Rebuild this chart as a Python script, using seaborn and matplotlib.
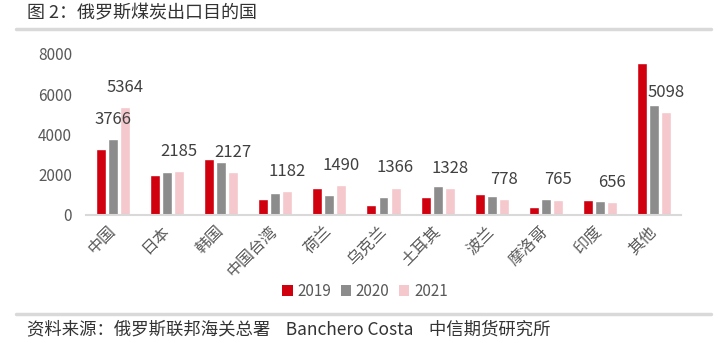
import matplotlib
matplotlib.use("Agg")
import matplotlib.pyplot as plt
from matplotlib.lines import Line2D
from matplotlib.patches import Patch
import seaborn as sns
import pandas as pd

categories = ["中国", "日本", "韩国", "中国台湾", "荷兰", "乌克兰", "土耳其", "波兰", "摩洛哥", "印度", "其他"]
v2019 = [3270, 1990, 2780, 800, 1340, 510, 900, 1060, 400, 760, 7560]
v2020 = [3766, 2140, 2630, 1080, 1010, 880, 1440, 945, 780, 690, 5470]
v2021 = [5364, 2185, 2127, 1182, 1490, 1366, 1328, 778, 765, 656, 5098]
years = ["2019", "2020", "2021"]
colors = ["#d0000f", "#8c8c8c", "#f4c8cc"]

sns.set_theme(style="white")
plt.rcParams["font.family"] = ["Noto Sans CJK SC", "DejaVu Sans"]

rows = []
for y, vals in zip(years, [v2019, v2020, v2021]):
    for c, v in zip(categories, vals):
        rows.append({"cat": c, "year": y, "val": v})
df = pd.DataFrame(rows)

fig = plt.figure(figsize=(7.18, 3.43), dpi=100)
ax = fig.add_axes([86/718, 1-215/343, (681-86)/718, (215-54)/343])

sns.barplot(data=df, x="cat", y="val", hue="year", hue_order=years,
            palette=colors, order=categories, width=0.667, gap=0.17,
            ax=ax, legend=False, saturation=1)

ax.set_ylim(0, 8000)
ax.set_xlim(-0.5, len(categories) - 0.5)
ax.set_yticks([0, 2000, 4000, 6000, 8000])
ax.set_xlabel("")
ax.set_ylabel("")
for s in ["top", "right", "left"]:
    ax.spines[s].set_visible(False)
ax.spines["bottom"].set_color("#d9d9d9")
ax.spines["bottom"].set_linewidth(1.5)
ax.tick_params(axis="y", length=0, labelsize=11, labelcolor="#595959", pad=10)
ax.tick_params(axis="x", length=0, labelsize=11.5, labelcolor="#595959", pad=10)
for lab in ax.get_xticklabels():
    lab.set_rotation(45)
    lab.set_ha("right")
    lab.set_va("center")
    lab.set_rotation_mode("anchor")

# value labels
gray_labels = [str(v2020[0])] + [""] * (len(categories) - 1)
ax.bar_label(ax.containers[1], labels=gray_labels, padding=8, fontsize=12, color="#404040")
ax.bar_label(ax.containers[2], labels=[str(v) for v in v2021], padding=8, fontsize=12, color="#404040")

handles = [Patch(facecolor=c, edgecolor="none") for c in colors]
fig.legend(handles, years, loc="center", bbox_to_anchor=(365/718, 1-291/343), ncol=3,
           frameon=False, fontsize=11, handlelength=0.7, handleheight=0.7,
           handletextpad=0.3, columnspacing=0.6, labelcolor="#595959")

fig.text(27/718, 1-13/343, "图 2：俄罗斯煤炭出口目的国", fontsize=13, va="center", ha="left", color="#333333")
fig.add_artist(Line2D([16/718, 711/718], [1-28.7/343, 1-28.7/343], color="#d9d9d9", linewidth=2.5, transform=fig.transFigure))
fig.add_artist(Line2D([16/718, 711/718], [1-314/343, 1-314/343], color="#d9d9d9", linewidth=2.5, transform=fig.transFigure))
fig.text(27/718, 1-329/343, "资料来源：俄罗斯联邦海关总署    Banchero Costa    中信期货研究所", fontsize=12.5, va="center", ha="left", color="#333333")

fig.savefig("out.png", dpi=100)
